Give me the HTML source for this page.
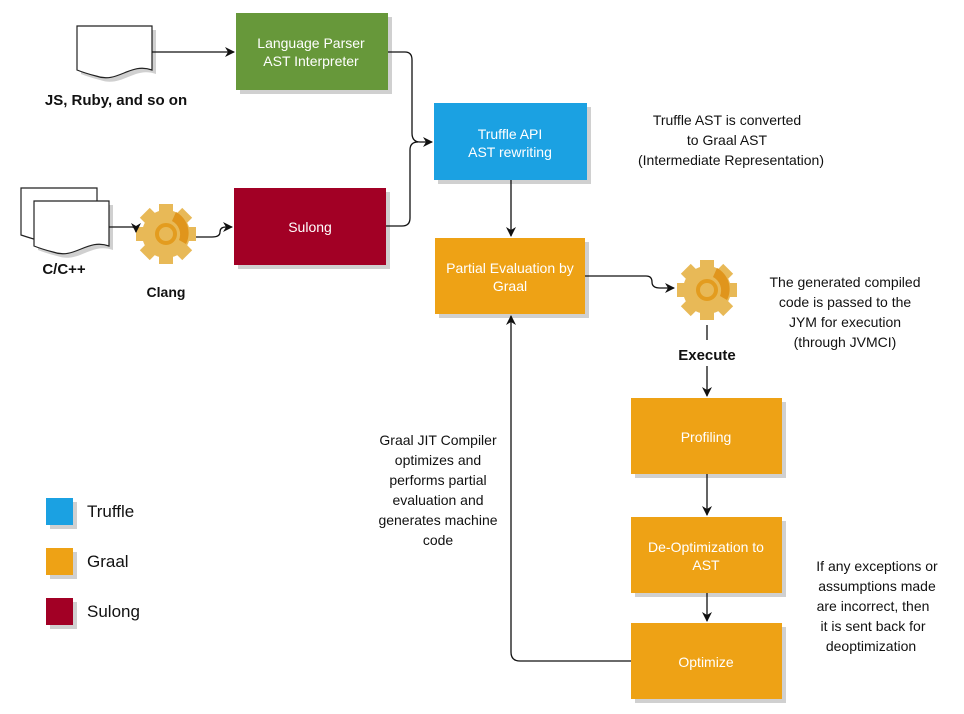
<!DOCTYPE html>
<html><head><meta charset="utf-8"><style>
body{margin:0;background:#fff;}
svg{display:block;font-family:"Liberation Sans",sans-serif;}
</style></head><body>
<svg width="964" height="714" viewBox="0 0 964 714" xmlns="http://www.w3.org/2000/svg">
<defs>
<marker id="a" markerWidth="10" markerHeight="10" refX="9" refY="5" orient="auto" markerUnits="userSpaceOnUse"><path d="M0,0 L10,5 L0,10 L3,5 z" fill="#111"/></marker>
<g id="gear">
<g fill="#e8b957">
<circle r="24"/>
<rect x="-7" y="-30" width="14" height="60"/>
<rect x="-7" y="-30" width="14" height="60" transform="rotate(45)"/>
<rect x="-7" y="-30" width="14" height="60" transform="rotate(90)"/>
<rect x="-7" y="-30" width="14" height="60" transform="rotate(135)"/>
</g>
<circle r="9" fill="none" stroke="#e39c1f" stroke-width="4"/>
<path d="M10,-22 A24,24 0 0 1 20,10 L13,6 A15,15 0 0 0 6,-13z" fill="#e0951c"/>
</g>
</defs>
<g fill="#d0d0d0">
<rect x="240" y="17" width="152" height="77"/><rect x="438" y="107" width="153" height="77"/>
<rect x="238" y="192" width="152" height="77"/><rect x="439" y="242" width="150" height="76"/>
<rect x="635" y="402" width="151" height="76"/><rect x="635" y="521" width="151" height="76"/>
<rect x="635" y="627" width="151" height="76"/>
<rect x="50" y="502" width="27" height="27"/><rect x="50" y="552" width="27" height="27"/><rect x="50" y="602" width="27" height="27"/>
<path d="M81,30 H156 V74 C134,66 122,88 100,80 C92,78 86,76 81,74 Z"/>
<path d="M38,205 H113 V250 C91,242 79,264 57,256 C49,254 43,252 38,250 Z"/>
</g>
<rect x="236" y="13" width="152" height="77" fill="#67983a"/>
<rect x="434" y="103" width="153" height="77" fill="#1ba1e2"/>
<rect x="234" y="188" width="152" height="77" fill="#a20025"/>
<g fill="#eea215">
<rect x="435" y="238" width="150" height="76"/>
<rect x="631" y="398" width="151" height="76"/>
<rect x="631" y="517" width="151" height="76"/>
<rect x="631" y="623" width="151" height="76"/>
<rect x="46" y="548" width="27" height="27"/>
</g>
<rect x="46" y="498" width="27" height="27" fill="#1ba1e2"/>
<rect x="46" y="598" width="27" height="27" fill="#a20025"/>
<path d="M77,26 H152 V70 C130,62 118,84 96,76 C88,74 82,72 77,70 Z" fill="#fff" stroke="#222" stroke-width="1.2"/>
<path d="M21,188 H97 V235 C75,227 63,249 41,241 C33,239 27,237 21,235 Z" fill="#fff" stroke="#222" stroke-width="1.2"/>
<path d="M34,201 H109 V246 C87,238 75,260 53,252 C45,250 39,248 34,246 Z" fill="#fff" stroke="#222" stroke-width="1.2"/>
<use href="#gear" x="166" y="234"/>
<use href="#gear" x="707" y="290"/>
<g fill="none" stroke="#111" stroke-width="1.3">
<path d="M152,52 H234" marker-end="url(#a)"/>
<path d="M388,52 H405 Q412,52 412,60 V133 Q412,142 420,142 H432" marker-end="url(#a)"/>
<path d="M386,226 H402 Q410,226 410,218 V150 Q410,142 418,142"/>
<path d="M109,227 H132 Q136,227 136,232" marker-end="url(#a)"/>
<path d="M196,237 H212 Q220,237 220,232 Q220,227 226,227 H232" marker-end="url(#a)"/>
<path d="M511,180 V236" marker-end="url(#a)"/>
<path d="M585,276 H646 Q652,276 652,282 Q652,288 660,288 H674" marker-end="url(#a)"/>
<path d="M707,325 V340"/>
<path d="M707,366 V396" marker-end="url(#a)"/>
<path d="M707,474 V515" marker-end="url(#a)"/>
<path d="M707,593 V621" marker-end="url(#a)"/>
<path d="M631,661 H520 Q511,661 511,652 V316" marker-end="url(#a)"/>
</g>
<g fill="#fff" font-size="14" text-anchor="middle">
<text x="311" y="48">Language Parser</text><text x="311" y="66">AST Interpreter</text>
<text x="510" y="139">Truffle API</text><text x="510" y="157">AST rewriting</text>
<text x="310" y="232">Sulong</text>
<text x="510" y="273">Partial Evaluation by</text><text x="510" y="291">Graal</text>
<text x="706" y="442">Profiling</text>
<text x="706" y="552">De-Optimization to</text><text x="706" y="570">AST</text>
<text x="706" y="667">Optimize</text>
</g>
<g fill="#111" font-weight="bold" font-size="15" text-anchor="middle">
<text x="116" y="105">JS, Ruby, and so on</text>
<text x="64" y="274">C/C++</text>
<text x="166" y="297" font-size="14">Clang</text>
<text x="707" y="360">Execute</text>
</g>
<g fill="#111" font-size="14" text-anchor="middle">
<text x="727" y="125">Truffle AST is converted</text>
<text x="727" y="145">to Graal AST</text>
<text x="731" y="165">(Intermediate Representation)</text>
<text x="845" y="287">The generated compiled</text>
<text x="845" y="307">code is passed to the</text>
<text x="845" y="327">JYM for execution</text>
<text x="845" y="347">(through JVMCI)</text>
<text x="438" y="445">Graal JIT Compiler</text>
<text x="438" y="465">optimizes and</text>
<text x="438" y="485">performs partial</text>
<text x="438" y="505">evaluation and</text>
<text x="438" y="525">generates machine</text>
<text x="438" y="545">code</text>
<text x="877" y="571">If any exceptions or</text>
<text x="877" y="591">assumptions made</text>
<text x="873" y="611">are incorrect, then</text>
<text x="873" y="631">it is sent back for</text>
<text x="871" y="651">deoptimization</text>
</g>
<g fill="#111" font-size="17">
<text x="87" y="517">Truffle</text><text x="87" y="567">Graal</text><text x="87" y="617">Sulong</text>
</g>
</svg>
</body></html>
